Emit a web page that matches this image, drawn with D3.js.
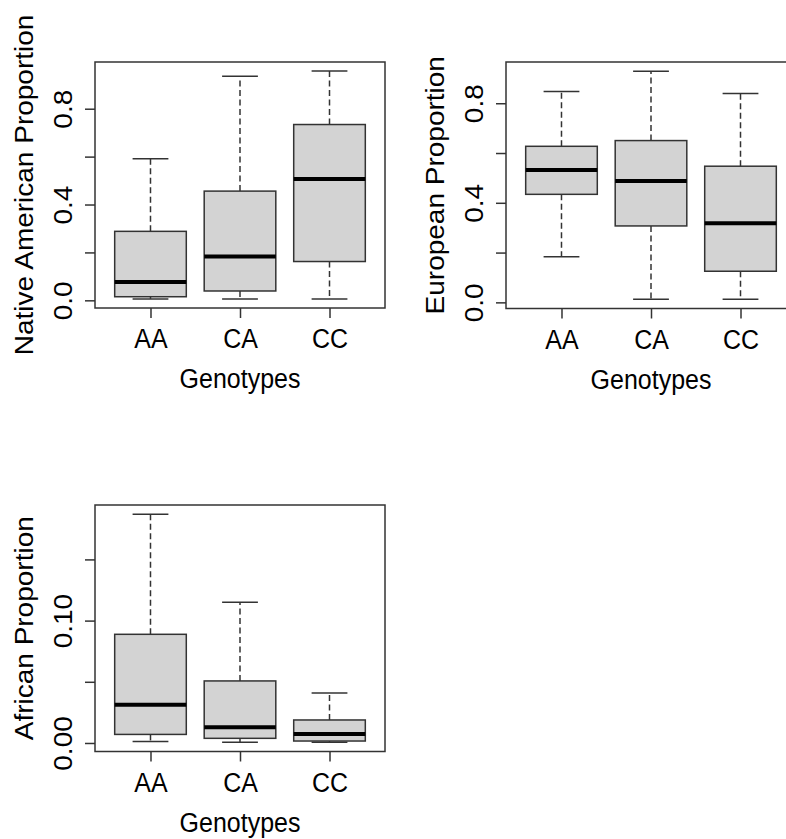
<!DOCTYPE html>
<html>
<head>
<meta charset="utf-8">
<script src="https://cdn.jsdelivr.net/npm/d3@7"></script>
<style>
  html, body { margin: 0; padding: 0; background: #fff; }
  svg { display: block; }
  text { font-family: "Liberation Sans", Arial, sans-serif; fill: #000; }
</style>
</head>
<body>
<script>
// ---- data (five-number summaries: lower whisker, Q1, median, Q3, upper whisker) ----
const categories = ["AA", "CA", "CC"];
const nativeAmerican = [
  [0.006, 0.015, 0.077, 0.288, 0.591],
  [0.006, 0.039, 0.183, 0.456, 0.936],
  [0.006, 0.162, 0.507, 0.734, 0.957]
];
const european = [
  [0.183, 0.434, 0.532, 0.627, 0.847],
  [0.012, 0.307, 0.488, 0.650, 0.929],
  [0.012, 0.125, 0.318, 0.547, 0.839]
];
const african = [
  [0.0013, 0.0070, 0.0313, 0.0888, 0.187],
  [0.0005, 0.0038, 0.0128, 0.0507, 0.115],
  [0.0005, 0.0016, 0.0074, 0.0188, 0.0409]
];
const ticksProp = [0, 0.2, 0.4, 0.6, 0.8];
const tickLabelsProp = ["0.0", "", "0.4", "", "0.8"];
const ticksAfr = [0, 0.05, 0.10, 0.15];
const tickLabelsAfr = ["0.00", "", "0.10", ""];
const xTitle = "Genotypes";

const W = 786, H = 839;
const svg = d3.select("body").append("svg").attr("width", W).attr("height", H);

const FONT = 25;
const VS = 1.12; // vertical stretch of the reference picture
const lineCol = "#333";

function panel(cfg) {
  const { left, right, top, bottom, data, ticks, labels, title } = cfg;
  const g = svg.append("g");
  const x = d3.scalePoint().domain(categories).range([left, right]).padding(0.62);
  const lo = d3.min(data, d => d[0]), hi = d3.max(data, d => d[4]);
  const ext = (hi - lo) * 0.04;
  const y = d3.scaleLinear().domain([lo - ext, hi + ext]).range([bottom, top]);
  const bw = x.step() * 0.8;

  const box = g.selectAll("g.box").data(data).enter().append("g").attr("class", "box");
  const cx = (d, i) => x(categories[i]);
  // whiskers
  box.append("line").attr("x1", cx).attr("x2", cx)
    .attr("y1", d => y(d[3])).attr("y2", d => y(d[4]))
    .attr("stroke", lineCol).attr("stroke-width", 1.5).attr("stroke-dasharray", "6,3.5");
  box.append("line").attr("x1", cx).attr("x2", cx)
    .attr("y1", d => y(d[1])).attr("y2", d => y(d[0]))
    .attr("stroke", lineCol).attr("stroke-width", 1.5).attr("stroke-dasharray", "6,3.5");
  // caps
  [0, 4].forEach(k => {
    box.append("line")
      .attr("x1", (d, i) => cx(d, i) - bw / 4).attr("x2", (d, i) => cx(d, i) + bw / 4)
      .attr("y1", d => y(d[k])).attr("y2", d => y(d[k]))
      .attr("stroke", lineCol).attr("stroke-width", 1.5);
  });
  // boxes
  box.append("rect")
    .attr("x", (d, i) => cx(d, i) - bw / 2).attr("width", bw)
    .attr("y", d => y(d[3])).attr("height", d => y(d[1]) - y(d[3]))
    .attr("fill", "#d3d3d3").attr("stroke", lineCol).attr("stroke-width", 1.5);
  // medians
  box.append("line")
    .attr("x1", (d, i) => cx(d, i) - bw / 2).attr("x2", (d, i) => cx(d, i) + bw / 2)
    .attr("y1", d => y(d[2])).attr("y2", d => y(d[2]))
    .attr("stroke", "#000").attr("stroke-width", 4);

  // frame
  g.append("rect").attr("x", left).attr("y", top)
    .attr("width", right - left).attr("height", bottom - top)
    .attr("fill", "none").attr("stroke", lineCol).attr("stroke-width", 1.5);

  // y axis
  const ya = g.append("g").attr("transform", `translate(${left},0)`)
    .call(d3.axisLeft(y).tickValues(ticks).tickSize(10).tickSizeOuter(0)
      .tickFormat((d, i) => labels[i]));
  ya.select(".domain").remove();
  ya.selectAll(".tick line").attr("stroke", lineCol).attr("stroke-width", 1.5);
  ya.selectAll(".tick text")
    .attr("transform", `translate(-23,0) rotate(-90) scale(${VS},1)`)
    .attr("x", 0).attr("y", 0).attr("dy", 0)
    .attr("text-anchor", "middle").style("font-size", FONT + "px")
    .style("font-family", '"Liberation Sans", Arial, sans-serif').attr("fill", "#000");

  // x axis
  const xa = g.append("g").attr("transform", `translate(0,${bottom})`)
    .call(d3.axisBottom(x).tickSize(10).tickSizeOuter(0));
  xa.select(".domain").remove();
  xa.selectAll(".tick line").attr("stroke", lineCol).attr("stroke-width", 1.5);
  xa.selectAll(".tick text")
    .attr("transform", `translate(0,40) scale(1,${VS})`)
    .attr("y", 0).attr("dy", 0)
    .style("font-size", FONT + "px")
    .style("font-family", '"Liberation Sans", Arial, sans-serif').attr("fill", "#000");

  // titles
  g.append("text")
    .attr("transform", `translate(${(left + right) / 2},${bottom + 80}) scale(1,${VS})`)
    .attr("text-anchor", "middle").style("font-size", FONT + "px").text(xTitle);
  g.append("text")
    .attr("transform", `translate(${left - 62},${(top + bottom) / 2}) rotate(-90) scale(${VS},1)`)
    .attr("text-anchor", "middle").style("font-size", FONT + "px").text(title);
}

panel({ left: 95, right: 385, top: 62, bottom: 308, data: nativeAmerican,
  ticks: ticksProp, labels: tickLabelsProp, title: "Native American Proportion" });
panel({ left: 506, right: 796, top: 62, bottom: 308.5, data: european,
  ticks: ticksProp, labels: tickLabelsProp, title: "European Proportion" });
panel({ left: 95, right: 385, top: 505, bottom: 751.5, data: african,
  ticks: ticksAfr, labels: tickLabelsAfr, title: "African Proportion" });
</script>
</body>
</html>
